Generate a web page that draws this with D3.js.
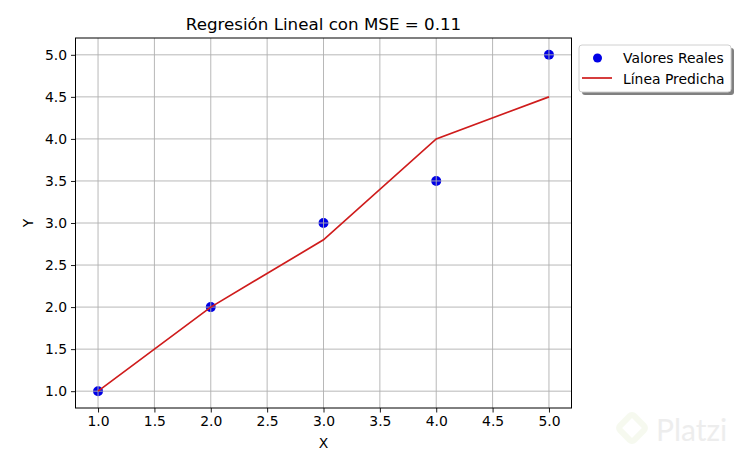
<!DOCTYPE html>
<html><head><meta charset="utf-8">
<script src="https://cdn.jsdelivr.net/npm/d3@7"></script>
<style>body{margin:0;background:#fff;} svg{display:block;font-family:"DejaVu Sans",sans-serif;}</style>
</head><body>
<svg id="c" width="747" height="457"></svg>
<script>
const xValues = [1, 2, 3, 4, 5];
const yReal = [1, 2, 3, 3.5, 5];
const yPred = [1, 2, 2.8, 4.0, 4.5];
const xTicks = [1.0, 1.5, 2.0, 2.5, 3.0, 3.5, 4.0, 4.5, 5.0];
const yTicks = [1.0, 1.5, 2.0, 2.5, 3.0, 3.5, 4.0, 4.5, 5.0];
const titleText = "Regresión Lineal con MSE = 0.11";
const legendLabels = ["Valores Reales", "Línea Predicha"];

const svg = d3.select("#c");
const L = 75.5, R = 571.5, T = 38, B = 408;
const x = d3.scaleLinear().domain([0.8, 5.2]).range([L, R]);
const y = d3.scaleLinear().domain([0.8, 5.2]).range([B, T]);

// scatter (below grid like matplotlib)
svg.append("g").selectAll("circle").data(xValues).join("circle")
  .attr("cx", (d) => x(d)).attr("cy", (d, i) => y(yReal[i])).attr("r", 5)
  .attr("fill", "#0000e6");

// grid
const grid = svg.append("g").attr("stroke", "#b0b0b0").attr("stroke-width", 0.9);
grid.selectAll(".gx").data(xTicks).join("line")
  .attr("x1", (d) => x(d)).attr("x2", (d) => x(d)).attr("y1", T).attr("y2", B);
grid.selectAll(".gy").data(yTicks).join("line")
  .attr("y1", (d) => y(d)).attr("y2", (d) => y(d)).attr("x1", L).attr("x2", R);

// line
svg.append("path").datum(xValues)
  .attr("d", d3.line().x((d) => x(d)).y((d, i) => y(yPred[i])))
  .attr("fill", "none").attr("stroke", "#cf1c1c").attr("stroke-width", 1.7);

// axes
const xAxis = svg.append("g").attr("transform", `translate(0,${B})`)
  .call(d3.axisBottom(x).tickValues(xTicks).tickFormat(d3.format(".1f")).tickSizeOuter(0).tickSize(4.5).tickPadding(4));
const yAxis = svg.append("g").attr("transform", `translate(${L},0)`)
  .call(d3.axisLeft(y).tickValues(yTicks).tickFormat(d3.format(".1f")).tickSizeOuter(0).tickSize(4.5).tickPadding(4));
[xAxis, yAxis].forEach(a => {
  a.select(".domain").remove();
  a.selectAll("text").attr("font-size", 13.9).attr("fill", "#000").attr("font-family", "DejaVu Sans");
  a.selectAll("line").attr("stroke", "#000").attr("stroke-width", 0.9);
});
svg.append("rect").attr("x", L).attr("y", T).attr("width", R - L).attr("height", B - T)
  .attr("fill", "none").attr("stroke", "#000").attr("stroke-width", 1);

// labels
svg.append("text").attr("x", (L + R) / 2).attr("y", 30).attr("text-anchor", "middle")
  .attr("font-size", 16.7).text(titleText);
svg.append("text").attr("x", (L + R) / 2).attr("y", 448).attr("text-anchor", "middle")
  .attr("font-size", 13.9).text("X");
svg.append("text").attr("transform", "translate(33,223) rotate(-90)").attr("text-anchor", "middle")
  .attr("font-size", 13.9).text("Y");

// legend
const lg = svg.append("g");
lg.append("rect").attr("x", 582).attr("y", 48).attr("width", 152).attr("height", 47).attr("rx", 3)
  .attr("fill", "#808080");
lg.append("rect").attr("x", 579).attr("y", 45).attr("width", 152).attr("height", 47).attr("rx", 3)
  .attr("fill", "#fff").attr("stroke", "#d0d0d0").attr("stroke-width", 1);
lg.append("circle").attr("cx", 597.5).attr("cy", 58).attr("r", 4.5).attr("fill", "#0000e6");
lg.append("line").attr("x1", 582).attr("x2", 612).attr("y1", 78).attr("y2", 78)
  .attr("stroke", "#cf1c1c").attr("stroke-width", 1.7);
lg.selectAll("text").data(legendLabels).join("text")
  .attr("x", 623).attr("y", (d, i) => 62.5 + i * 21).attr("font-size", 13.9).text((d) => d);

// watermark
const wm = svg.append("g").attr("opacity", 0.5);
wm.append("rect").attr("x", 622).attr("y", 418).attr("width", 20).attr("height", 20)
  .attr("transform", "rotate(45 632 428)").attr("fill", "none").attr("stroke", "#eef5e0").attr("stroke-width", 6).attr("rx", 3);
wm.append("text").attr("x", 656).attr("y", 441).attr("font-size", 30).attr("font-family", "Lato")
  .attr("fill", "#dddddd").text("Platzi");
</script>
</body></html>
